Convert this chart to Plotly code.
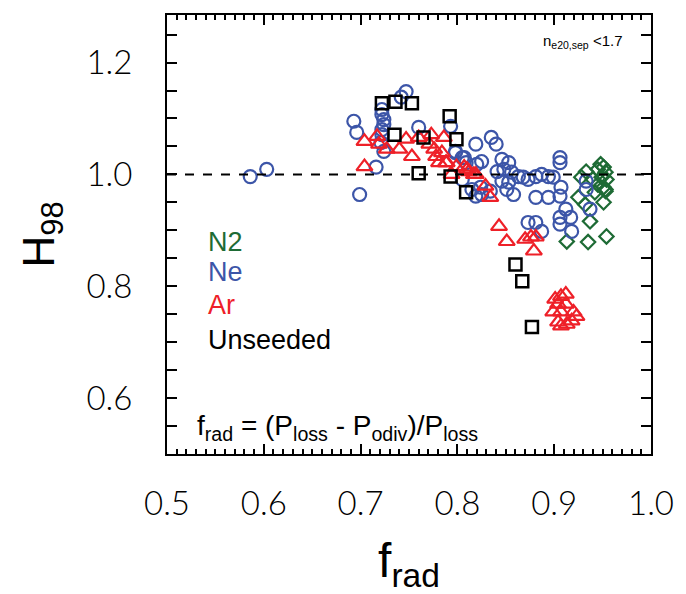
import plotly.graph_objects as go

# ---- data (f_rad, H98) ----
n2_x = [0.928, 0.933, 0.948, 0.951, 0.953, 0.949, 0.954, 0.945, 0.953, 0.942, 0.925, 0.932,
        0.951, 0.937, 0.913, 0.935, 0.954, 0.951, 0.953, 0.945, 0.940]
n2_y = [0.995, 1.005, 1.018, 1.013, 1.004, 0.995, 0.991, 0.982, 0.973, 0.968, 0.959, 0.946,
        0.950, 0.916, 0.880, 0.879, 0.889, 0.977, 0.970, 1.009, 0.991]

ne_x = [0.586, 0.603, 0.747, 0.742, 0.722, 0.722, 0.724, 0.724, 0.722, 0.722, 0.721, 0.724,
        0.693, 0.696, 0.716, 0.699, 0.760, 0.819, 0.798, 0.807, 0.809, 0.805, 0.815, 0.819,
        0.793, 0.835, 0.840, 0.798, 0.805, 0.820, 0.825, 0.846, 0.853, 0.848, 0.841, 0.856,
        0.863, 0.868, 0.873, 0.881, 0.887, 0.894, 0.899, 0.906, 0.906, 0.846, 0.853, 0.851,
        0.858, 0.825, 0.834, 0.824, 0.881, 0.894, 0.907, 0.906, 0.912, 0.906, 0.906, 0.917,
        0.918, 0.873, 0.881, 0.887, 0.933, 0.933, 0.937]
ne_y = [0.996, 1.009, 1.148, 1.138, 1.116, 1.107, 1.098, 1.089, 1.080, 1.071, 1.057, 1.041,
        1.095, 1.075, 1.013, 0.964, 1.084, 1.054, 1.039, 1.030, 1.021, 0.991, 0.973, 0.961,
        1.086, 1.066, 1.054, 1.041, 1.030, 1.018, 1.023, 1.027, 1.021, 1.009, 1.005, 1.004,
        0.996, 0.995, 0.991, 0.996, 1.000, 0.996, 0.995, 1.030, 1.021, 0.988, 0.986, 0.973,
        0.964, 0.964, 0.970, 0.977, 0.959, 0.959, 0.977, 0.961, 0.938, 0.923, 0.911, 0.923,
        0.898, 0.914, 0.914, 0.898, 0.988, 0.973, 0.938]

ar_x = [0.704, 0.717, 0.719, 0.727, 0.740, 0.747, 0.753, 0.704, 0.760, 0.773, 0.771, 0.776,
        0.778, 0.781, 0.786, 0.789, 0.794, 0.807, 0.812, 0.819, 0.784, 0.788, 0.799, 0.810,
        0.817, 0.829, 0.834, 0.843, 0.851, 0.870, 0.876, 0.881, 0.879, 0.901, 0.907, 0.912,
        0.904, 0.912, 0.899, 0.907, 0.920, 0.923, 0.904, 0.913, 0.918, 0.907]
ar_y = [1.059, 1.068, 1.054, 1.045, 1.045, 1.063, 1.032, 1.014, 1.066, 1.071, 1.054, 1.045,
        1.032, 1.021, 1.066, 1.021, 1.000, 1.013, 1.005, 1.000, 1.039, 1.021, 1.014, 1.009,
        1.000, 0.979, 0.959, 0.907, 0.880, 0.884, 0.888, 0.888, 0.863, 0.777, 0.782, 0.786,
        0.768, 0.768, 0.754, 0.754, 0.754, 0.746, 0.736, 0.732, 0.738, 0.729]

un_x = [0.722, 0.736, 0.753, 0.735, 0.765, 0.792, 0.799, 0.760, 0.793, 0.809, 0.860, 0.867, 0.877]
un_y = [1.127, 1.130, 1.127, 1.071, 1.066, 1.104, 1.063, 1.002, 0.996, 0.968, 0.839, 0.809, 0.727]

legend_labels = ["N2", "Ne", "Ar", "Unseeded"]
GREEN, BLUE, RED, BLACK = "#1e6b35", "#3c55a8", "#ee2028", "#000000"

fig = go.Figure()
fig.add_trace(go.Scatter(x=n2_x, y=n2_y, mode="markers",
                         marker=dict(symbol="diamond-open", size=11, color=GREEN, line=dict(width=2.2, color=GREEN))))
fig.add_trace(go.Scatter(x=ne_x, y=ne_y, mode="markers",
                         marker=dict(symbol="circle-open", size=13, color=BLUE, line=dict(width=2.2, color=BLUE))))
fig.add_trace(go.Scatter(x=ar_x, y=ar_y, mode="markers",
                         marker=dict(symbol="triangle-up-open", size=14, color=RED, line=dict(width=2.2, color=RED))))
fig.add_trace(go.Scatter(x=un_x, y=un_y, mode="markers",
                         marker=dict(symbol="square-open", size=12, color=BLACK, line=dict(width=2.5, color=BLACK))))

fig.add_shape(type="line", x0=0.5, x1=1.0, y0=1.0, y1=1.0, xref="x", yref="y",
              line=dict(color="black", width=2, dash="dash"))

TICKFONT = dict(family="Lato", size=33, color="black", weight=300)
fig.update_xaxes(range=[0.5, 1.0], tickvals=[0.5, 0.6, 0.7, 0.8, 0.9, 1.0],
                 ticktext=["0.5", "0.6", "0.7", "0.8", "0.9", "1.0"],
                 showline=True, linewidth=2, linecolor="black", mirror="allticks",
                 ticks="inside", ticklen=10, tickwidth=2, tickcolor="black",
                 minor=dict(ticks="inside", dtick=0.01, ticklen=5, tickwidth=1.5, tickcolor="black"),
                 showgrid=False, zeroline=False, tickfont=TICKFONT, ticklabelstandoff=19,
                 title=dict(text="f<sub>rad</sub>", font=dict(family="Liberation Sans", size=48, color="black"), standoff=26))
fig.update_yaxes(range=[0.5, 1.285], tickvals=[0.6, 0.8, 1.0, 1.2],
                 ticktext=["0.6", "0.8", "1.0", "1.2"],
                 showline=True, linewidth=2, linecolor="black", mirror="allticks",
                 ticks="inside", ticklen=10, tickwidth=2, tickcolor="black",
                 minor=dict(ticks="inside", dtick=0.05, ticklen=10, tickwidth=1.5, tickcolor="black"),
                 showgrid=False, zeroline=False, tickfont=TICKFONT, ticklabelstandoff=26,
                 title=dict(text="H<sub>98</sub>", font=dict(family="Liberation Sans", size=44, color="black"), standoff=18))

ann_y = [0.879, 0.825, 0.766, 0.704]
for lab, col, yy in zip(legend_labels, [GREEN, BLUE, RED, BLACK], ann_y):
    fig.add_annotation(x=0.540, y=yy, xref="x", yref="y", text=lab, showarrow=False,
                       xanchor="left", yanchor="middle", font=dict(family="Liberation Sans", size=27, color=col))

fig.add_annotation(x=0.529, y=0.548, xref="x", yref="y",
                   text="f<sub>rad</sub> = (P<sub>loss</sub> - P<sub>odiv</sub>)/P<sub>loss</sub>",
                   showarrow=False, xanchor="left", yanchor="middle",
                   font=dict(family="Liberation Sans", size=28, color="black"))
fig.add_annotation(x=0.973, y=1.2375, xref="x", yref="y",
                   text="n<sub>e20,sep</sub> <1.7", showarrow=False, xanchor="right", yanchor="middle",
                   font=dict(family="Liberation Sans", size=15, color="black"))

fig.update_layout(width=686, height=594, margin=dict(l=167, r=33, t=15, b=140),
                  paper_bgcolor="white", plot_bgcolor="white", showlegend=False)

fig.write_html("out.html")
